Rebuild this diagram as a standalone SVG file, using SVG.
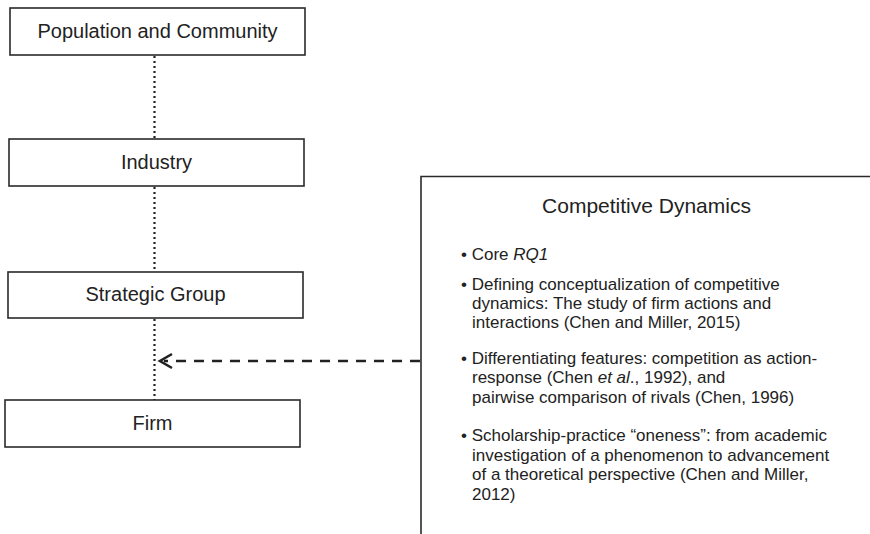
<svg xmlns="http://www.w3.org/2000/svg" width="870" height="534" viewBox="0 0 870 534">
  <defs>
    <style>
      .box { fill: #fff; stroke: #2a2a2a; stroke-width: 1.6; }
      .lbl { font-family: "Liberation Sans", Arial, sans-serif; font-size: 20px; fill: #222; text-anchor: middle; }
      .dot { stroke: #222; stroke-width: 2.2; stroke-dasharray: 2 3; fill: none; }
      .dash { stroke: #222; stroke-width: 2.6; stroke-dasharray: 10 8; fill: none; }
      .head { stroke: #222; stroke-width: 2.6; fill: none; }
      .title { font-family: "Liberation Sans", Arial, sans-serif; font-size: 21px; fill: #222; text-anchor: middle; }
      .bul { font-family: "Liberation Sans", Arial, sans-serif; font-size: 17px; fill: #222; }
    </style>
  </defs>
  <rect width="870" height="534" fill="#fff"/>
  <g id="connectors">
    <line class="dot" x1="154.5" y1="56" x2="154.5" y2="139"/>
    <line class="dot" x1="154.5" y1="187" x2="154.5" y2="272"/>
    <line class="dot" x1="154.5" y1="319" x2="154.5" y2="400"/>
    <line class="dash" x1="420" y1="361" x2="164" y2="361"/>
    <polyline class="head" points="172,354 160,361 172,368"/>
  </g>
  <g id="population">
    <rect class="box" x="10" y="8" width="295" height="47"/>
    <text class="lbl" x="157.5" y="38">Population and Community</text>
  </g>
  <g id="industry">
    <rect class="box" x="9" y="139" width="295" height="47"/>
    <text class="lbl" x="156.5" y="169">Industry</text>
  </g>
  <g id="strategic-group">
    <rect class="box" x="8" y="272" width="295" height="46"/>
    <text class="lbl" x="155.5" y="301">Strategic Group</text>
  </g>
  <g id="firm">
    <rect class="box" x="5" y="400" width="295" height="47"/>
    <text class="lbl" x="152.5" y="429.5">Firm</text>
  </g>
  <g id="competitive-dynamics">
    <path d="M870,176.5 H421 V534" fill="none" stroke="#2a2a2a" stroke-width="1.6"/>
    <text class="title" x="646.5" y="212.5">Competitive Dynamics</text>
    <text class="bul" x="461" y="259.5">• Core <tspan font-style="italic">RQ1</tspan></text>
    <text class="bul" x="461" y="290">• Defining conceptualization of competitive</text>
    <text class="bul" x="472" y="308.8">dynamics: The study of firm actions and</text>
    <text class="bul" x="472" y="327.6">interactions (Chen and Miller, 2015)</text>
    <text class="bul" x="461" y="364">• Differentiating features: competition as action-</text>
    <text class="bul" x="472" y="383.4">response (Chen <tspan font-style="italic">et al</tspan>., 1992), and</text>
    <text class="bul" x="472" y="403">pairwise comparison of rivals (Chen, 1996)</text>
    <text class="bul" x="461" y="441">• Scholarship-practice “oneness”: from academic</text>
    <text class="bul" x="472" y="460.5">investigation of a phenomenon to advancement</text>
    <text class="bul" x="472" y="480">of a theoretical perspective (Chen and Miller,</text>
    <text class="bul" x="472" y="499.5">2012)</text>
  </g>
</svg>
